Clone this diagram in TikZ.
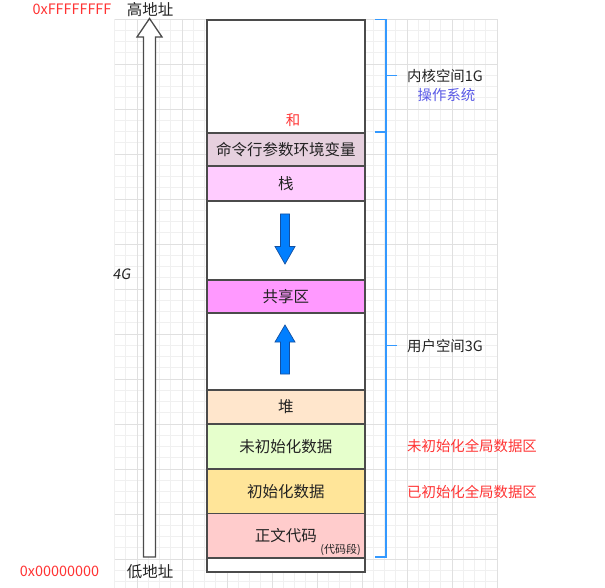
\documentclass[tikz,border=0pt]{standalone}
\usepackage{fontspec}
\setmainfont{Noto Sans CJK SC}
\newfontfamily\slantfont[FakeSlant=0.15]{Noto Sans CJK SC}
\definecolor{boxgray}{RGB}{75,75,75}
\definecolor{txt}{RGB}{35,35,35}
\definecolor{redtxt}{RGB}{255,51,51}
\definecolor{bluetxt}{RGB}{90,90,230}
\definecolor{brk}{RGB}{51,153,255}
\definecolor{arrfill}{RGB}{0,127,255}
\definecolor{arrdraw}{RGB}{20,80,160}
\definecolor{gridminor}{RGB}{240,240,240}
\definecolor{gridmajor}{RGB}{224,224,224}
\definecolor{cmdc}{RGB}{230,208,222}
\definecolor{stackc}{RGB}{255,204,255}
\definecolor{sharec}{RGB}{255,153,255}
\definecolor{heapc}{RGB}{255,230,204}
\definecolor{bssc}{RGB}{230,255,204}
\definecolor{datac}{RGB}{255,229,153}
\definecolor{textc}{RGB}{255,204,204}
\begin{document}
\begin{tikzpicture}[x=1pt,y=-1pt,
  seg/.style={draw=boxgray, line width=1.9pt, minimum width=158pt, inner sep=0pt, anchor=north west, font=\fontsize{15.5}{18}\selectfont, text=txt},
  lbl/.style={inner sep=0pt, font=\fontsize{14.4}{16}\selectfont, text=txt},
  redlbl/.style={lbl, text=redtxt},
  bluearrow/.style={fill=arrfill, draw=arrdraw, line width=0.7pt, line join=miter},
  bracket/.style={draw=brk, line width=1.5pt}]
\useasboundingbox (0,0) rectangle (605,588);
% grid
\foreach \i in {0,...,33} {
  \pgfmathsetmacro{\xx}{114.5+11.25*\i}
  \draw[gridminor, line width=0.6pt] (\xx,19) -- (\xx,588);
}
\foreach \i in {0,...,50} {
  \pgfmathsetmacro{\yy}{19+11.25*\i}
  \draw[gridminor, line width=0.6pt] (114.5,\yy) -- (497,\yy);
}
\foreach \i in {0,...,8} {
  \pgfmathsetmacro{\xx}{137+45*\i}
  \draw[gridmajor, line width=0.8pt] (\xx,19) -- (\xx,588);
}
\foreach \i in {0,...,12} {
  \pgfmathsetmacro{\yy}{19+45*\i}
  \draw[gridmajor, line width=0.8pt] (114.5,\yy) -- (497,\yy);
}
% memory column
\node[seg, fill=white, minimum height=113pt] (kern) at (206,19) {};
\node[seg, fill=cmdc, minimum height=33.5pt] (cmd) at (206,132) {命令行参数环境变量};
\node[seg, fill=stackc, minimum height=34.5pt] (stack) at (206,165.5) {栈};
\node[seg, fill=white, minimum height=79pt] (gap1) at (206,200) {};
\node[seg, fill=sharec, minimum height=33pt] (share) at (206,279) {共享区};
\node[seg, fill=white, minimum height=77pt] (gap2) at (206,312) {};
\node[seg, fill=heapc, minimum height=34pt] (heap) at (206,389) {堆};
\node[seg, fill=bssc, minimum height=45pt] (bss) at (206,423) {未初始化数据};
\node[seg, fill=datac, minimum height=45pt] (data) at (206,468) {初始化数据};
\node[seg, fill=textc, minimum height=44.5pt] (code) at (206,512.5) {正文代码};
\node[seg, fill=white, minimum height=14pt] (bottom) at (206,557) {};
\node[inner sep=0pt, anchor=east, font=\fontsize{11}{13}\selectfont, text=txt] (codeseg) at (361,550) {(代码段)};
\node[redlbl] (he) at (293,120.5) {和};
% blue block arrows
\draw[bluearrow] (280.5,214) -- (289.5,214) -- (289.5,246.5) -- (295,246.5) -- (285,264) -- (275,246.5) -- (280.5,246.5) -- cycle;
\draw[bluearrow] (280.5,374) -- (289.5,374) -- (289.5,342) -- (295,342) -- (285,325) -- (275,342) -- (280.5,342) -- cycle;
% hollow address arrow
\draw[draw=boxgray, line width=1.3pt, fill=white, line join=miter] (143.5,557) -- (155.5,557) -- (155.5,37) -- (162,37) -- (149.5,18.5) -- (137,37) -- (143.5,37) -- cycle;
\node[lbl, font=\fontsize{15.5}{17}\selectfont] (high) at (150,9.5) {高地址};
\node[lbl, font=\fontsize{15.5}{17}\selectfont] (low) at (150,572) {低地址};
\node[redlbl] (hexhigh) at (72,9) {0xFFFFFFFF};
\node[redlbl] (hexlow) at (59.5,571) {0x00000000};
\node[lbl, font=\fontsize{14.4}{16}\slantfont] (four) at (121.5,274) {4G};
% brackets
\draw[bracket] (375,19.5) -- (386,19.5) -- (386,131.5) -- (375,131.5);
\draw[bracket] (386,75.5) -- (397,75.5);
\draw[bracket] (375,132.5) -- (386,132.5) -- (386,557) -- (375,557);
\draw[bracket] (386,345.5) -- (397,345.5);
% right labels
\node[lbl, anchor=west] (kernlbl) at (407,76) {内核空间1G};
\node[lbl, text=bluetxt] (oslbl) at (446.5,95) {操作系统};
\node[lbl, anchor=west] (userlbl) at (407,346) {用户空间3G};
\node[redlbl, anchor=west] (bsslbl) at (407,446) {未初始化全局数据区};
\node[redlbl, anchor=west] (datalbl) at (407,491.5) {已初始化全局数据区};
\end{tikzpicture}
\end{document}
